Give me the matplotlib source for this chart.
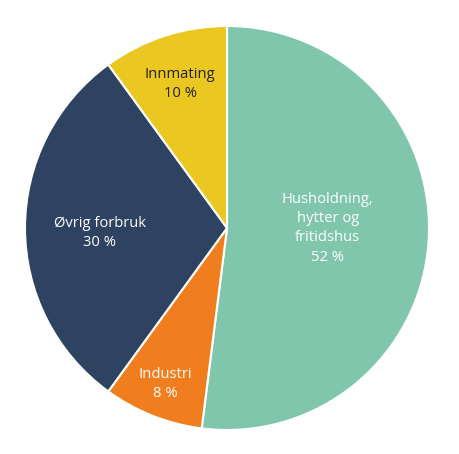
import numpy as np
import matplotlib.pyplot as plt

labels = ["Husholdning,\nhytter og\nfritidshus", "Industri", "Øvrig forbruk", "Innmating"]
values = [52, 8, 30, 10]
colors = ["#7fc6ad", "#f07e1f", "#2e4361", "#ebc821"]
text_colors = ["white", "white", "white", "#222222"]
# label placement: distance from centre along mid-angle, plus a small vertical nudge
label_dist = [0.50, 0.83, 0.63, 0.75]
label_nudge = [0.03, 0.0, -0.025, 0.0]

plt.rcParams["font.family"] = ["Open Sans", "DejaVu Sans"]

fig = plt.figure(figsize=(4.6, 4.54), dpi=100)
ax = fig.add_axes([25 / 460, 24 / 454, 404 / 460, 404 / 454])

wedges, _ = ax.pie(
    values,
    colors=colors,
    startangle=90,
    counterclock=False,
    wedgeprops=dict(edgecolor="white", linewidth=1.5),
)

for w, lab, v, tc, d, dy in zip(wedges, labels, values, text_colors, label_dist, label_nudge):
    mid = np.deg2rad((w.theta1 + w.theta2) / 2)
    ax.text(
        d * np.cos(mid),
        d * np.sin(mid) + dy,
        f"{lab}\n{v} %",
        ha="center",
        va="center",
        color=tc,
        fontsize=10.6,
        linespacing=1.38,
    )

ax.set_xlim(-1, 1)
ax.set_ylim(-1, 1)
ax.set_aspect("equal")
ax.axis("off")

fig.savefig("out.png", dpi=100)
